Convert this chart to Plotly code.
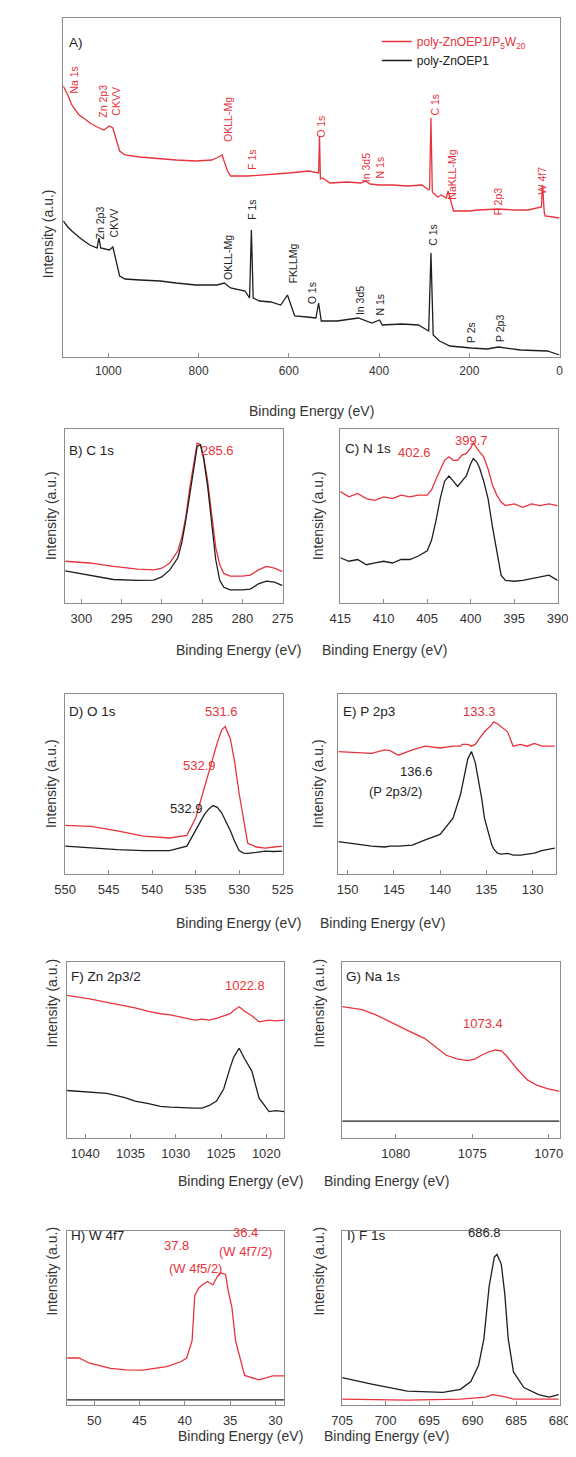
import plotly.graph_objects as go

W, H = 576, 1457
RED = '#e8333c'
BLK = '#1e1e1e'
FRAME = '#8c8c8c'
FONT = 'Liberation Sans, Arial, sans-serif'

# ---------------- data ----------------
# A) survey spectra (binding energy eV, intensity a.u.)
A_red_E = [1100, 1090, 1081, 1072, 1065, 1052, 1041, 1025, 1010, 998, 990, 975, 963, 930, 885, 850, 806, 771, 760,
           748, 736, 729, 690, 650, 600, 556, 540, 534, 532, 530, 525, 509, 470, 440, 430, 420, 399, 370, 337, 305,
           290, 288, 285, 282, 280, 270, 262, 251, 247, 239, 235, 200, 180, 136, 100, 70, 47, 40, 38, 37, 34, 32, 15,
           3, 0]
A_red_I = [271, 262, 252, 246, 242, 238, 234, 230, 227, 231, 229, 206, 202, 200, 198, 197, 196, 197, 199, 202, 186,
           181, 181, 182, 184, 186, 184, 184, 221, 178, 179, 174, 175, 174, 176, 173, 172, 172, 171, 172, 167, 168,
           239, 166, 164, 160, 162, 159, 166, 152, 146, 146, 147, 148, 147, 147, 149, 150, 172, 168, 145, 141, 140,
           139, 139]
A_blk_E = [1100, 1090, 1081, 1060, 1041, 1025, 1021, 1017, 998, 990, 975, 963, 930, 885, 850, 806, 759, 743, 729, 697,
           687, 683, 679, 665, 640, 618, 603, 595, 587, 560, 540, 534, 528, 493, 446, 416, 399, 393, 350, 313, 290,
           285, 280, 266, 243, 196, 160, 136, 86, 27, 3, 0]
A_blk_I = [136, 130, 126, 118, 112, 109, 119, 109, 107, 110, 81, 78, 77, 76, 74, 72, 72, 74, 69, 66,
           59, 127, 59, 56, 55, 52, 62, 51, 41, 40, 39, 54, 36, 36, 39, 34, 37, 32, 33, 32, 26,
           104, 22, 16, 11, 9, 8, 10, 7, 6, 2, 2]

# B) C 1s
B_E = [302, 299, 296, 293, 291, 290, 289, 288, 287.5, 287, 286.5, 286, 285.6, 285.2, 284.8, 284.3, 283.8, 283.3,
       282.8, 282.3, 281.5, 280, 279, 278, 277, 276, 275]
B_red = [24, 23, 21, 19.5, 19, 20, 23, 30, 38, 50, 67, 82, 92, 91, 84, 70, 50, 32, 22, 17, 15.5, 15.5, 16, 19, 21, 20, 18]
B_blk = [18.4, 16, 13.5, 13, 13.2, 15, 19, 26, 35, 48, 64, 80, 90, 91, 83, 67, 45, 25, 13, 9, 7.5, 7.5, 8, 11, 12.6, 12, 10]

# C) N 1s
C_E = [415, 414, 413, 412, 411, 410, 409, 408, 407, 406, 405, 404.5, 404, 403.5, 403, 402.5, 402, 401.5, 401, 400.5,
       400, 399.7, 399.3, 399, 398.5, 398, 397.5, 397, 396.5, 396, 395, 394, 393, 392, 391, 390]
C_red = [64, 61, 63, 60, 59, 61, 60, 62, 61, 62, 62, 65, 71, 77, 82, 84, 82, 82, 85, 86, 89, 92, 89, 87, 84, 77, 68,
         62, 58, 56, 57, 55, 57, 56, 57, 56]
C_blk = [26, 24, 25, 22, 23, 24, 23, 25, 25, 27, 30, 36, 47, 60, 70, 73, 70, 67, 70, 73, 80, 83, 81, 78, 70, 60, 44,
         30, 16, 13, 12.5, 13, 14, 15, 16, 13]

# D) O 1s
D_E = [550, 547, 544, 541, 538, 536, 535, 534, 533.5, 533, 532.5, 532, 531.6, 531, 530.5, 530, 529.5, 529, 528, 527,
       526, 525]
D_red = [27, 26.5, 24, 21, 20, 21.5, 31, 48, 56, 64, 73, 80, 82, 75, 62, 45, 31, 17, 15, 14.4, 15, 15.5]
D_blk = [15.5, 14.5, 13.5, 13, 13, 15.5, 24, 33, 36, 38, 37, 34, 30, 24, 18, 13, 11.6, 11.5, 12, 12.7, 12.5, 12.7]

# E) P 2p3
E_E = [151, 149, 147.4, 146, 145.4, 144.5, 143, 141.6, 140, 138.6, 137.8, 137.6, 137, 136.6, 136.2, 135.5, 135.2,
       134.4, 134.2, 133.8, 133.4, 132.7, 132.1, 131.3, 130.6, 129.8, 129, 127.6]
E_red = [68, 67.5, 67, 69, 68.5, 66, 69, 71, 70, 71, 71, 72, 72, 71, 72, 77, 79, 83, 84.5, 83.5, 82, 79, 71, 72, 71,
         72.5, 71, 71]
E_blk = [18, 16.5, 15.5, 15, 15.5, 15.5, 16, 19, 22, 31, 44, 49, 64, 68, 62, 42, 31, 16, 14, 11.6, 11, 11.5, 10.5,
         10.5, 11, 11.6, 13, 14.4]

# F) Zn 2p3/2
F_E = [1042, 1040.5, 1039.5, 1037.6, 1035.6, 1034.5, 1033, 1031.7, 1030.6, 1029, 1027.9, 1027.1, 1026.3, 1025.5,
       1024.7, 1024, 1023.6, 1023, 1022.4, 1021.6, 1020.8, 1019.7, 1019, 1018]
F_red = [81, 80, 79, 77, 75, 74, 72, 70.6, 70, 68, 67, 67.5, 67, 68, 69.5, 70.6, 72.5, 74.6, 72, 69.5, 66, 67, 66.5, 67]
F_blk = [27, 26.5, 26, 25.4, 23, 21, 19.5, 18, 17.5, 17, 17, 17, 18.5, 21, 28, 40, 46, 51, 45, 38, 22.6, 15, 15.5, 15]

# G) Na 1s
G_E = [1083.5, 1082.2, 1081.3, 1080.4, 1079.2, 1078.1, 1077.4, 1076.7, 1076, 1075.3, 1074.8, 1074.4, 1073.9, 1073.5,
       1073.1, 1072.8, 1072.1, 1071.4, 1070.8, 1070.1, 1069.3]
G_red = [74.6, 73, 70, 66, 61, 56.5, 51.5, 47, 45, 44, 45, 47, 49, 50, 49.5, 47, 39.5, 33, 30, 28, 26.5]
G_blk_E = [1083.5, 1078, 1074, 1069.3]
G_blk = [9.6, 9.6, 9.6, 9.6]

# H) W 4f7
H_E = [53, 51.7, 50.5, 48.2, 46.5, 44.7, 42, 40.4, 39.8, 39.2, 38.9, 38.5, 38.1, 37.5, 36.9, 36.4, 36.1, 35.5, 35.2,
       34.8, 34.4, 33.4, 31.8, 30.3, 29]
H_red = [27, 27, 24, 21, 20.2, 20, 22, 25, 27, 37, 63, 67, 69, 71, 69, 74, 76, 75, 65.5, 56, 37, 17, 14.4, 16.7, 16.7]
H_blk_E = [53, 40, 32, 29]
H_blk = [3, 3, 3, 3]

# I) F 1s
I_E = [705, 701.6, 697.5, 693.4, 691.4, 690.2, 689.3, 688.7, 688.1, 687.5, 687.2, 686.7, 686.3, 685.9, 685.3, 684.1,
       682.4, 681.2, 680.1]
I_blk = [15.7, 12, 8, 7.3, 9, 13.5, 23, 38, 68, 85, 86.5, 81, 64, 38, 19, 10, 6, 4.5, 6]
I_red_E = [705, 697.5, 691.4, 688.5, 687.7, 686.5, 685.3, 680.1]
I_red = [3.4, 2.8, 3.4, 4.5, 6, 5, 3.4, 3.4]

# tick values
A_ticks = [1000, 800, 600, 400, 200, 0]
B_ticks = [300, 295, 290, 285, 280, 275]
C_ticks = [415, 410, 405, 400, 395, 390]
D_ticks = [550, 545, 540, 535, 530, 525]
E_ticks = [150, 145, 140, 135, 130]
F_ticks = [1040, 1035, 1030, 1025, 1020]
G_ticks = [1080, 1075, 1070]
H_ticks = [50, 45, 40, 35, 30]
I_ticks = [705, 700, 695, 690, 685, 680]

# ---------------- layout helpers ----------------
def px(x, y):
    return x / W, 1 - y / H

# box (x0,x1,y0,y1 pixels), xrange, ticks, yrange, title y
panels = [
    ((46, 562, 10, 349), [1100, 0], A_ticks, [0, 339], 393),
    ((48, 274, 421, 595), [302, 275], B_ticks, [0, 100], 642),
    ((334, 560, 421, 595), [415, 390], C_ticks, [0, 100], 642),
    ((48, 274, 686, 866), [550, 525], D_ticks, [0, 100], 915),
    ((332, 558, 686, 866), [151, 127.5], E_ticks, [0, 100], 915),
    ((50, 276, 954, 1130), [1042, 1018], F_ticks, [0, 100], 1183),
    ((336, 562, 954, 1130), [1083.5, 1069.3], G_ticks, [0, 100], 1183),
    ((50, 276, 1223, 1397), [53, 29], H_ticks, [0, 100], 1438),
    ((336, 562, 1223, 1397), [705, 680], I_ticks, [0, 100], 1438),
]

series = [
    [(A_red_E, A_red_I, RED, True), (A_blk_E, A_blk_I, BLK, True)],
    [(B_E, B_red, RED, False), (B_E, B_blk, BLK, False)],
    [(C_E, C_red, RED, False), (C_E, C_blk, BLK, False)],
    [(D_E, D_red, RED, False), (D_E, D_blk, BLK, False)],
    [(E_E, E_red, RED, False), (E_E, E_blk, BLK, False)],
    [(F_E, F_red, RED, False), (F_E, F_blk, BLK, False)],
    [(G_E, G_red, RED, False), (G_blk_E, G_blk, BLK, False)],
    [(H_E, H_red, RED, False), (H_blk_E, H_blk, BLK, False)],
    [(I_red_E, I_red, RED, False), (I_E, I_blk, BLK, False)],
]

fig = go.Figure()
layout = dict(
    width=W, height=H, margin=dict(l=0, r=0, t=0, b=0),
    paper_bgcolor='white', plot_bgcolor='white',
    font=dict(family=FONT, color='#222'),
    legend=dict(x=372 / W, y=1 - 19 / H, xanchor='left', yanchor='top', bgcolor='rgba(0,0,0,0)',
                font=dict(size=12, family=FONT, color='#222'), itemwidth=30, tracegroupgap=0),
)
annotations = []

for i, ((x0, x1, y0, y1), xr, ticks, yr, ty) in enumerate(panels, start=1):
    xa = 'xaxis' if i == 1 else f'xaxis{i}'
    ya = 'yaxis' if i == 1 else f'yaxis{i}'
    xref = 'x' if i == 1 else f'x{i}'
    yref = 'y' if i == 1 else f'y{i}'
    layout[xa] = dict(domain=[x0 / W, x1 / W], range=xr, anchor=yref, showline=True, mirror=True,
                      linecolor=FRAME, linewidth=1, showgrid=False, zeroline=False, ticks='inside', ticklen=4,
                      tickcolor=FRAME, tickvals=ticks, ticklabelstandoff=3,
                      tickfont=dict(size=12 if i == 1 else 13, family=FONT, color='#333'))
    layout[ya] = dict(domain=[1 - y1 / H, 1 - y0 / H], range=yr, anchor=xref, showline=True, mirror=True,
                      linecolor=FRAME, linewidth=1, showgrid=False, zeroline=False, showticklabels=False,
                      ticks='')
    for (xs, ys, col, leg) in series[i - 1]:
        name = None
        if leg:
            name = ('<span style="color:%s">poly-ZnOEP1/P<sub>5</sub>W<sub>20</sub></span>' % RED
                    if col == RED else 'poly-ZnOEP1')
        fig.add_trace(go.Scatter(x=xs, y=ys, mode='lines', line=dict(color=col, width=1.3),
                                 xaxis=xref, yaxis=yref, showlegend=leg, name=name, hoverinfo='skip'))
    # axis titles
    cx, cy = px((x0 + x1) / 2, ty)
    annotations.append(dict(x=cx, y=cy, xref='paper', yref='paper', text='Binding Energy (eV)',
                            showarrow=False, font=dict(size=14, color='#333')))
    tx = 20 if i == 1 else (23 if x0 < 200 else 311)
    ax_, ay_ = px(tx, (y0 + y1) / 2)
    annotations.append(dict(x=ax_, y=ay_, xref='paper', yref='paper', text='Intensity (a.u.)',
                            textangle=-90, showarrow=False, font=dict(size=14, color='#333')))

# panel labels (left-anchored, pixel positions)
panel_labels = [('A)', 50, 25), ('B) C 1s', 50, 433), ('C) N 1s', 337, 431), ('D) O 1s', 50, 703),
                ('E) P 2p3', 335, 703), ('F) Zn 2p3/2', 52, 968), ('G) Na 1s', 338, 968),
                ('H) W 4f7', 52, 1237), ('I) F 1s', 339, 1237)]
for t, x, y in panel_labels:
    X, Y = px(x, y)
    annotations.append(dict(x=X, y=Y, xref='paper', yref='paper', text=t, xanchor='left',
                            showarrow=False, font=dict(size=13.5, color='#222')))

# peak value labels in small panels (pixel positions)
peak_labels = [('285.6', 187, 433, RED), ('402.6', 430, 435, RED), ('399.7', 490, 423, RED),
               ('531.6', 211, 703, RED), ('532.9', 168, 757, RED), ('532.9', 155, 800, BLK),
               ('133.3', 498, 703, RED), ('136.6', 432, 763, BLK), ('(P 2p3/2)', 421, 783, BLK),
               ('1022.8', 235, 987, RED), ('1073.4', 505, 1025, RED),
               ('37.8', 149, 1247, RED), ('(W 4f5/2)', 154, 1270, RED), ('36.4', 235, 1234, RED),
               ('(W 4f7/2)', 236, 1253, RED), ('686.8', 503, 1234, BLK)]
for t, x, y, c in peak_labels:
    X, Y = px(x, y)
    annotations.append(dict(x=X, y=Y, xref='paper', yref='paper', text=t, showarrow=False,
                            font=dict(size=13, color=c)))

# survey peak assignments (rotated), at (energy, intensity)
survey_labels = [('Na 1s', 1077, 277, RED), ('Zn 2p3<br>CKVV', 997, 256, RED), ('OKLL-Mg', 735, 238, RED),
                 ('F 1s', 682, 197, RED), ('O 1s', 529, 230, RED), ('In 3d5<br>N 1s', 413, 189, RED),
                 ('C 1s', 277, 252, RED), ('NaKLL-Mg', 239, 182, RED), ('P 2p3', 136, 155, RED),
                 ('W 4f7', 38, 177, RED),
                 ('Zn 2p3<br>CKVV', 1002, 134, BLK), ('OKLL-Mg', 735, 100, BLK), ('F 1s', 682, 147, BLK),
                 ('FKLLMg', 590, 94, BLK), ('O 1s', 548, 64, BLK), ('In 3d5', 442, 56, BLK),
                 ('N 1s', 399, 52, BLK), ('C 1s', 281, 122, BLK), ('P 2s', 196, 24, BLK),
                 ('P 2p3', 132, 29, BLK)]
for t, e, v, c in survey_labels:
    annotations.append(dict(x=e, y=v, xref='x', yref='y', text=t, textangle=-90, showarrow=False,
                            font=dict(size=10.5, color=c)))

layout['annotations'] = annotations
fig.update_layout(**layout)
fig.write_html('out.html')
